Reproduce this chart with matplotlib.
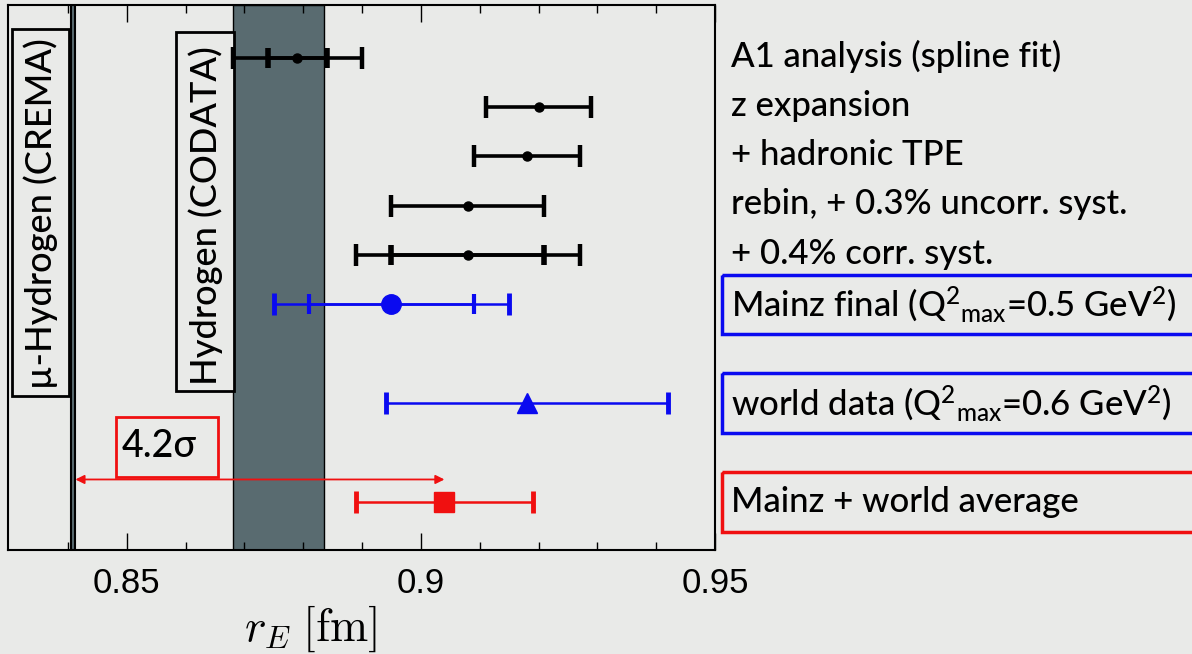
import numpy as np
import matplotlib.pyplot as plt
from matplotlib.patches import Rectangle

plt.rcParams['font.family'] = ['Lato', 'DejaVu Sans']
plt.rcParams['font.weight'] = 'medium'
plt.rcParams['mathtext.fontset'] = 'custom'
plt.rcParams['mathtext.rm'] = 'Lato:medium'
plt.rcParams['mathtext.it'] = 'Lato:italic'
plt.rcParams['mathtext.bf'] = 'Lato:bold'

# proton charge radius r_E [fm]
crema_r, crema_err = 0.84087, 0.00039
codata_r, codata_err = 0.8758, 0.0077

# Mainz A1 fit variants (black), rows from the top
fit_rows = [0, 1, 2, 3, 4]
fit_r = [0.879, 0.920, 0.918, 0.908, 0.908]
fit_err_inner = [0.005, 0.0, 0.0, 0.0, 0.013]
fit_err_outer = [0.011, 0.009, 0.009, 0.013, 0.019]
fit_labels = ['A1 analysis (spline fit)', 'z expansion', '+ hadronic TPE',
              'rebin, + 0.3% uncorr. syst.', '+ 0.4% corr. syst.']

mainz_row, mainz_r, mainz_err_inner, mainz_err_outer = 5, 0.895, 0.014, 0.020
world_row, world_r, world_err = 7, 0.918, 0.024
avg_row, avg_r, avg_err = 9, 0.904, 0.015
mainz_label = r'Mainz final (Q$^{2}$$_{\mathrm{max}}$=0.5 GeV$^{2}$)'
world_label = r'world data (Q$^{2}$$_{\mathrm{max}}$=0.6 GeV$^{2}$)'
avg_label = 'Mainz + world average'

bg = '#e9eae8'
band = '#596b70'
blue = '#0a0af0'
red = '#f01010'
fs = 25

fig = plt.figure(figsize=(11.92, 6.54), dpi=100, facecolor=bg)
ax = fig.add_axes([8 / 1192, 1 - 550 / 654, 707 / 1192, 545 / 654], facecolor=bg)

ax.set_xlim(0.8298, 0.95)
ax.set_ylim(9.98, -1.07)

# muonic hydrogen line and CODATA hydrogen band
ax.axvspan(crema_r - crema_err, crema_r + crema_err, color=band, ec='black', lw=1.5, zorder=1)
ax.axvspan(codata_r - codata_err, codata_r + codata_err, color=band, ec='black', lw=1, zorder=1)

ax.add_patch(Rectangle((0.83046, -0.576), 0.00979, 7.436, fc=bg, ec='black', lw=2, zorder=2))
ax.text(0.83536, 3.15, u'\u00b5-Hydrogen (CREMA)', rotation=90, ha='center', va='center',
        fontsize=26, zorder=3)
ax.add_patch(Rectangle((0.85838, -0.515), 0.0099, 7.272, fc=bg, ec='black', lw=2, zorder=2))
ax.text(0.86333, 3.2, 'Hydrogen (CODATA)', rotation=90, ha='center', va='center',
        fontsize=26, zorder=3)

# black fit results
for row, r, ei, eo in zip(fit_rows, fit_r, fit_err_inner, fit_err_outer):
    ax.errorbar(r, row, xerr=eo, fmt='none', ecolor='black', elinewidth=2.6,
                capsize=8, capthick=3.2, zorder=4)
    if ei > 0:
        ax.errorbar(r, row, xerr=ei, fmt='none', ecolor='black', elinewidth=2.6,
                    capsize=7, capthick=4, zorder=4)
    ax.plot(r, row, 'o', color='black', ms=6.5, zorder=5)

# Mainz final
ax.errorbar(mainz_r, mainz_row, xerr=mainz_err_outer, fmt='none', ecolor=blue,
            elinewidth=1.8, capsize=8, capthick=3.5, zorder=4)
ax.errorbar(mainz_r, mainz_row, xerr=mainz_err_inner, fmt='none', ecolor=blue,
            elinewidth=1.8, capsize=7, capthick=3, zorder=4)
ax.plot(mainz_r, mainz_row, 'o', color=blue, ms=14, zorder=5)

# world data
ax.errorbar(world_r, world_row, xerr=world_err, fmt='none', ecolor=blue,
            elinewidth=1.8, capsize=8, capthick=3.5, zorder=4)
ax.plot(world_r, world_row, '^', color=blue, ms=14, zorder=5)

# combined average
ax.errorbar(avg_r, avg_row, xerr=avg_err, fmt='none', ecolor=red,
            elinewidth=1.8, capsize=8, capthick=3.5, zorder=4)
ax.plot(avg_r, avg_row, 's', color=red, ms=15, zorder=5)

# discrepancy arrow
ax.annotate('', xy=(crema_r + crema_err, 8.55), xytext=(avg_r, 8.55),
            arrowprops=dict(arrowstyle='<|-|>', color=red, lw=1.3, mutation_scale=13,
                            shrinkA=0, shrinkB=0), zorder=6)
ax.add_patch(Rectangle((0.8482, 7.28), 0.0173, 1.21, fc=bg, ec=red, lw=2, zorder=6))
ax.text(0.8491, 7.88, u'4.2\u03c3', ha='left', va='center', fontsize=27, zorder=7)

# labels on the right
lx = 0.9527
for row, lab in zip(fit_rows, fit_labels):
    ax.text(lx, row - 0.03, lab, ha='left', va='center', fontsize=fs, clip_on=False)
for row, lab, col in [(mainz_row, mainz_label, blue), (world_row, world_label, blue),
                      (avg_row, avg_label, red)]:
    ax.text(lx, row, lab, ha='left', va='center', fontsize=fs, clip_on=False)
    ax.add_patch(Rectangle((0.95126, row - 0.6), 0.2, 1.21, fc='none', ec=col, lw=2.5,
                           clip_on=False))

# axes styling
ax.set_yticks([])
ax.set_xticks([0.85, 0.9, 0.95])
ax.set_xticklabels(['0.85', '0.9', '0.95'], family='Liberation Sans', fontsize=25,
                   fontweight='normal')
ax.set_xticks(np.arange(0.84, 0.95, 0.01), minor=True)
ax.tick_params(axis='x', which='both', direction='in', top=True, width=1, pad=12)
ax.tick_params(axis='x', which='major', length=12)
ax.tick_params(axis='x', which='minor', length=6)
for s in ax.spines.values():
    s.set_linewidth(1.5)

ax.set_xlabel(r'$r_E\;[\mathrm{fm}]$', fontsize=33, math_fontfamily='cm')
ax.xaxis.set_label_coords(0.427, -0.098)
ax.xaxis.label.set_va('top')

fig.savefig('out.png', dpi=100, facecolor=bg)
